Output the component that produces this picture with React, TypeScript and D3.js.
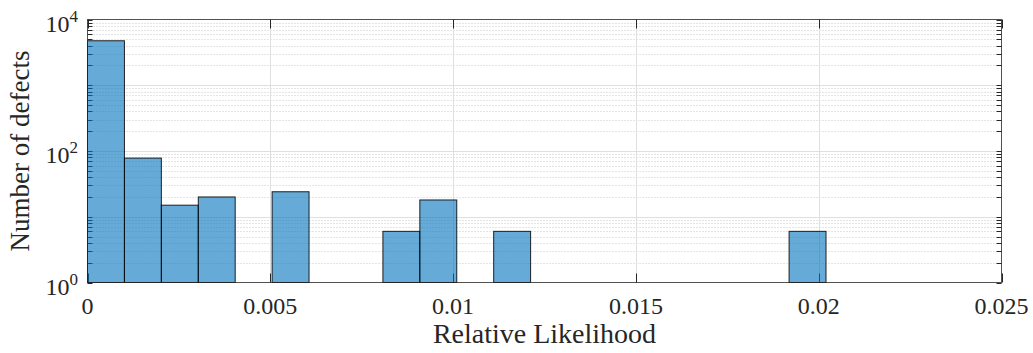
import React from "react";
import * as d3 from "d3";

// Histogram of relative likelihood per defect (log-scaled counts)
const binLower = [
  0, 0.00101, 0.00202, 0.00303, 0.00404, 0.00505, 0.00606, 0.00707, 0.00808, 0.00909,
  0.0101, 0.01111, 0.01212, 0.01313, 0.01414, 0.01515, 0.01616, 0.01717, 0.01818, 0.01919,
];
const binUpper = [
  0.00101, 0.00202, 0.00303, 0.00404, 0.00505, 0.00606, 0.00707, 0.00808, 0.00909, 0.0101,
  0.01111, 0.01212, 0.01313, 0.01414, 0.01515, 0.01616, 0.01717, 0.01818, 0.01919, 0.0202,
];
const binCounts = [4750, 78, 15, 20, 0, 24, 0, 0, 6, 18, 0, 6, 0, 0, 0, 0, 0, 0, 0, 6];

const xTicks = [0, 0.005, 0.01, 0.015, 0.02, 0.025];
const xTickLabels = ["0", "0.005", "0.01", "0.015", "0.02", "0.025"];
const yDecades = [0, 1, 2, 3, 4];
const yLabelledDecades = [0, 2, 4];
const yMinorMultipliers = [2, 3, 4, 5, 6, 7, 8, 9];

const xLabel = "Relative Likelihood";
const yLabel = "Number of defects";

const W = 1033;
const H = 353;
const FONT = "Liberation Serif, Times New Roman, serif";

export default function App() {
  const left = 87.5;
  const right = 1001.5;
  const top = 19.5;
  const bottom = 282.5;

  const x = d3.scaleLinear().domain([0, 0.025]).range([left, right]);
  const y = d3.scaleLog().domain([1, 1e4]).range([bottom, top]);

  const minorValues: number[] = [];
  yDecades.slice(0, -1).forEach((d) =>
    yMinorMultipliers.forEach((m) => minorValues.push(m * Math.pow(10, d)))
  );

  const axisColor = "#262626";
  const yTickLen = 5;
  const xTickLen = 9;

  return (
    <svg
      width={W}
      height={H}
      style={{ position: "absolute", left: 0, top: 0, background: "#fff", fontFamily: FONT }}
    >
      <rect x={0} y={0} width={W} height={H} fill="#fff" />

      {/* minor horizontal grid */}
      {minorValues.map((v) => (
        <line
          key={"mg" + v}
          x1={left}
          x2={right}
          y1={Math.round(y(v)) + 0.5}
          y2={Math.round(y(v)) + 0.5}
          stroke="#cbcbcb"
          strokeWidth={1}
          strokeDasharray="1,2"
        />
      ))}
      {/* major grid */}
      {yDecades.slice(1, -1).map((d) => (
        <line
          key={"gy" + d}
          x1={left}
          x2={right}
          y1={Math.round(y(Math.pow(10, d))) + 0.5}
          y2={Math.round(y(Math.pow(10, d))) + 0.5}
          stroke="#dfdfdf"
          strokeWidth={1}
        />
      ))}
      {xTicks.slice(1, -1).map((t) => (
        <line
          key={"gx" + t}
          x1={Math.round(x(t)) + 0.5}
          x2={Math.round(x(t)) + 0.5}
          y1={top}
          y2={bottom}
          stroke="#dfdfdf"
          strokeWidth={1}
        />
      ))}

      {/* ticks */}
      {xTicks.map((t) => {
        const px = Math.round(x(t)) + 0.5;
        return (
          <g key={"xt" + t}>
            <line x1={px} x2={px} y1={bottom} y2={bottom - xTickLen} stroke={axisColor} />
            <line x1={px} x2={px} y1={top} y2={top + xTickLen} stroke={axisColor} />
          </g>
        );
      })}
      {[...yDecades.map((d) => Math.pow(10, d)), ...minorValues].map((v) => {
        const py = Math.round(y(v)) + 0.5;
        return (
          <g key={"yt" + v}>
            <line x1={left} x2={left + yTickLen} y1={py} y2={py} stroke={axisColor} />
            <line x1={right} x2={right - yTickLen} y1={py} y2={py} stroke={axisColor} />
          </g>
        );
      })}

      {/* bars */}
      {binCounts.map((c, i) =>
        c > 0 ? (
          <rect
            key={"b" + i}
            x={x(binLower[i])}
            y={y(c)}
            width={x(binUpper[i]) - x(binLower[i])}
            height={bottom - y(c)}
            fill="#0072BD"
            fillOpacity={0.6}
            stroke="#000"
            strokeOpacity={0.85}
            strokeWidth={1}
          />
        ) : null
      )}

      {/* axes box */}
      <rect
        x={left}
        y={top}
        width={right - left}
        height={bottom - top}
        fill="none"
        stroke={axisColor}
        strokeOpacity={0.8}
        strokeWidth={1}
      />

      {/* x tick labels */}
      {xTicks.map((t, i) => (
        <text
          key={"xl" + t}
          x={x(t)}
          y={314}
          textAnchor="middle"
          fontSize={24}
          fontFamily={FONT}
          fill={axisColor}
        >
          {xTickLabels[i]}
        </text>
      ))}

      {/* y tick labels */}
      {yLabelledDecades.map((d) => (
        <text
          key={"yl" + d}
          x={78}
          y={y(Math.pow(10, d)) + 12}
          textAnchor="end"
          fontSize={24}
          fontFamily={FONT}
          fill={axisColor}
        >
          10
          <tspan dy={-10} fontSize={17}>
            {String(d)}
          </tspan>
        </text>
      ))}

      {/* axis labels */}
      <text
        x={(left + right) / 2}
        y={343}
        textAnchor="middle"
        fontSize={28}
        fontFamily={FONT}
        fill={axisColor}
      >
        {xLabel}
      </text>
      <text
        transform={`translate(29, ${(top + bottom) / 2}) rotate(-90)`}
        textAnchor="middle"
        fontSize={27}
        fontFamily={FONT}
        fill={axisColor}
      >
        {yLabel}
      </text>
    </svg>
  );
}
